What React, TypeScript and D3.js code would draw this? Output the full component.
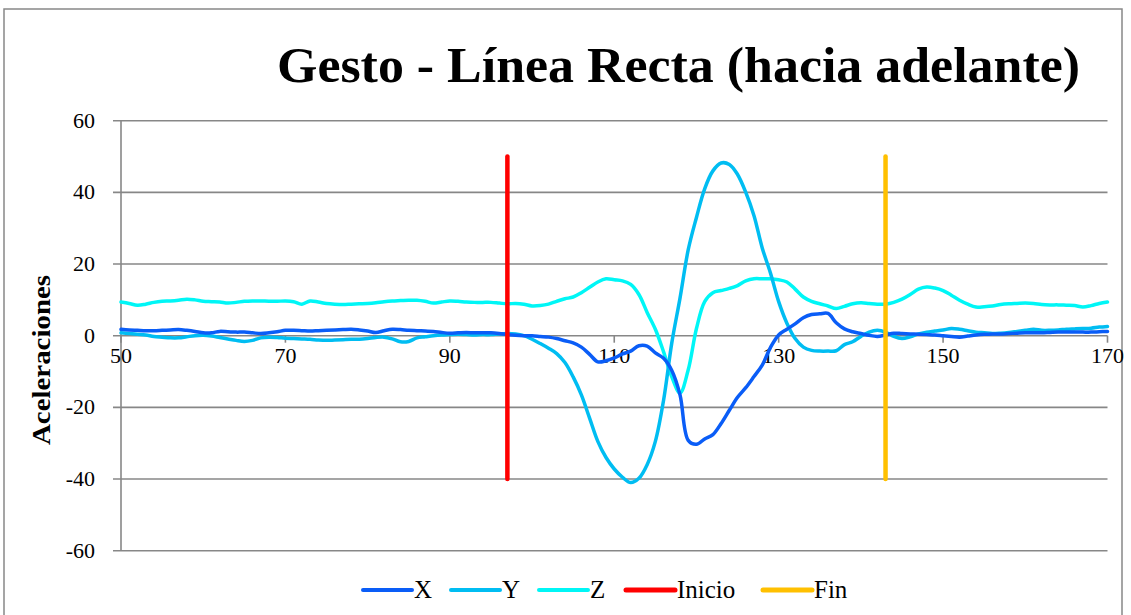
import React from "react";
import * as d3 from "d3";

const W = 1131;
const H = 615;

const title = "Gesto - Línea Recta (hacia adelante)";
const yTitle = "Aceleraciones";
const yTicks = [60, 40, 20, 0, -20, -40, -60];
const xTicks = [50, 70, 90, 110, 130, 150, 170];

const xStart = 50;
const seriesX = [
  1.8, 1.6, 1.5, 1.4, 1.4, 1.5, 1.6, 1.7, 1.5, 1.2, 0.8, 0.8, 1.2, 1.1, 1.0, 1.0, 0.8, 0.6, 0.8, 1.1,
  1.5, 1.5, 1.4, 1.3, 1.4, 1.5, 1.6, 1.7, 1.8, 1.6, 1.3, 0.9, 1.4, 1.8, 1.7, 1.5, 1.4, 1.3, 1.2, 0.9,
  0.7, 0.8, 0.9, 0.8, 0.8, 0.8, 0.6, 0.3, 0.1, 0.0, 0.0, -0.2, -0.4, -0.8, -1.4, -2.0, -3.2, -5.2, -7.3, -7.0,
  -6.2, -5.1, -4.3, -2.8, -2.9, -4.8, -6.3, -9.7, -16.5, -29.2, -30.3, -28.8, -27.6, -24.5, -20.8, -17.2, -14.5, -11.4, -8.2, -3.3,
  0.2, 1.8, 3.3, 5.0, 5.9, 6.1, 6.2, 3.6, 1.9, 1.1, 0.6, 0.1, -0.2, 0.2, 0.7, 0.6, 0.5, 0.4, 0.3, 0.2,
  0.0, -0.2, -0.4, -0.1, 0.2, 0.4, 0.5, 0.5, 0.6, 0.7, 0.8, 0.8, 0.8, 0.9, 1.0, 1.0, 1.0, 1.0, 1.0, 1.1,
  1.2,
];
const seriesY = [
  0.8, 0.6, 0.4, 0.2, -0.2, -0.4, -0.6, -0.6, -0.3, 0.0, 0.1, -0.1, -0.5, -0.9, -1.3, -1.6, -1.3, -0.6, -0.4, -0.5,
  -0.7, -0.8, -0.9, -1.0, -1.2, -1.3, -1.2, -1.1, -1.0, -1.0, -0.8, -0.5, -0.4, -0.9, -1.7, -1.6, -0.6, -0.3, 0.0, 0.2,
  0.3, 0.4, 0.3, 0.2, 0.3, 0.3, 0.5, 0.6, 0.5, 0.0, -1.0, -2.2, -3.5, -5.0, -7.5, -11.5, -16.5, -23.0, -29.5, -34.0,
  -37.2, -39.5, -41.0, -39.8, -36.0, -29.5, -18.0, -2.0, 10.5, 24.0, 33.0, 41.0, 46.0, 48.2, 47.8, 45.0, 40.0, 33.5, 24.5, 17.5,
  9.5, 3.5, -0.8, -3.2, -4.1, -4.3, -4.3, -4.2, -2.5, -1.7, -0.2, 1.0, 1.5, 1.0, -0.2, -0.8, -0.3, 0.5, 1.0, 1.3,
  1.6, 2.0, 1.8, 1.4, 1.0, 0.8, 0.6, 0.7, 0.9, 1.2, 1.5, 1.8, 1.5, 1.5, 1.6, 1.8, 1.9, 2.0, 2.1, 2.4,
  2.6,
];
const seriesZ = [
  9.4, 9.0, 8.5, 8.8, 9.3, 9.6, 9.7, 9.9, 10.2, 10.0, 9.6, 9.5, 9.4, 9.1, 9.3, 9.6, 9.7, 9.7, 9.6, 9.6,
  9.7, 9.5, 8.8, 9.7, 9.4, 9.0, 8.8, 8.7, 8.8, 8.9, 9.0, 9.2, 9.5, 9.7, 9.8, 9.9, 9.9, 9.6, 9.1, 9.4,
  9.7, 9.6, 9.4, 9.3, 9.3, 9.3, 9.1, 8.9, 9.0, 8.8, 8.3, 8.4, 8.8, 9.6, 10.3, 10.8, 12.0, 13.5, 15.0, 15.9,
  15.6, 15.3, 14.3, 11.5, 6.5, 1.8, -4.5, -11.5, -16.0, -9.5, 2.0, 9.5, 12.0, 12.6, 13.2, 14.0, 15.3, 15.9, 15.9, 15.9,
  15.6, 15.0, 13.0, 10.8, 9.6, 8.9, 8.3, 7.6, 8.2, 8.9, 9.2, 9.0, 8.8, 8.8, 9.3, 10.2, 11.5, 13.0, 13.6, 13.3,
  12.6, 11.3, 9.9, 8.8, 8.0, 8.1, 8.3, 8.7, 8.9, 9.0, 9.1, 9.0, 8.7, 8.6, 8.6, 8.5, 8.4, 8.0, 8.4, 9.0,
  9.4,
];
const inicioX = 97;
const finX = 143;
const markerRange = [-40, 50];

const colors = {
  X: "#0a5df7",
  Y: "#00bdf2",
  Z: "#00f6f6",
  Inicio: "#ff0000",
  Fin: "#ffc000",
};

const legendItems = [
  { name: "X", color: colors.X, x1: 363, w: 4 },
  { name: "Y", color: colors.Y, x1: 451, w: 4 },
  { name: "Z", color: colors.Z, x1: 539, w: 4 },
  { name: "Inicio", color: colors.Inicio, x1: 626, w: 5 },
  { name: "Fin", color: colors.Fin, x1: 763, w: 5 },
];

export default function App() {
  const x = d3.scaleLinear().domain([50, 170]).range([121, 1107.5]);
  const y = d3.scaleLinear().domain([-60, 60]).range([550.7, 120.7]);
  const line = d3
    .line<number>()
    .x((_, i) => x(xStart + i))
    .y((d) => y(d))
    .curve(d3.curveCatmullRom.alpha(0.5));

  const font = "'Liberation Serif', 'DejaVu Serif', serif";
  const grid = "#878787";

  return (
    <svg
      width={W}
      height={H}
      style={{ position: "absolute", left: 0, top: 0, background: "#fff" }}
      fontFamily={font}
    >
      <rect x={0} y={0} width={W} height={H} fill="#fff" />
      <path d={`M4,${H} V9 H1122 V${H}`} fill="none" stroke="#888" strokeWidth={1.5} />
      <text
        x={678.5}
        y={82}
        textAnchor="middle"
        fontSize={50}
        fontWeight="bold"
        fill="#000"
        textLength={803}
        lengthAdjust="spacingAndGlyphs"
      >
        {title}
      </text>

      {yTicks.map((t) => (
        <g key={t}>
          <line x1={113} x2={x(170)} y1={y(t)} y2={y(t)} stroke={grid} strokeWidth={1.6} />
          <text x={95} y={y(t) + 7} textAnchor="end" fontSize={22} fill="#000">
            {t}
          </text>
        </g>
      ))}
      <line x1={121} x2={121} y1={y(60)} y2={y(-60)} stroke={grid} strokeWidth={1.6} />
      {xTicks.map((t) => (
        <g key={t}>
          <line x1={x(t)} x2={x(t)} y1={y(0)} y2={y(0) + 7} stroke={grid} strokeWidth={1.6} />
          <text x={x(t)} y={y(0) + 27} textAnchor="middle" fontSize={22} fill="#000">
            {t}
          </text>
        </g>
      ))}
      <text
        transform={`translate(50,${360}) rotate(-90)`}
        textAnchor="middle"
        fontSize={25}
        fontWeight="bold"
        fill="#000"
        textLength={170}
        lengthAdjust="spacingAndGlyphs"
      >
        {yTitle}
      </text>

      <path d={line(seriesZ) || ""} fill="none" stroke={colors.Z} strokeWidth={3.5} strokeLinejoin="round" strokeLinecap="round" />
      <path d={line(seriesY) || ""} fill="none" stroke={colors.Y} strokeWidth={3.5} strokeLinejoin="round" strokeLinecap="round" />
      <path d={line(seriesX) || ""} fill="none" stroke={colors.X} strokeWidth={3.5} strokeLinejoin="round" strokeLinecap="round" />

      <line x1={x(inicioX)} x2={x(inicioX)} y1={y(markerRange[0])} y2={y(markerRange[1])} stroke={colors.Inicio} strokeWidth={4.5} strokeLinecap="round" />
      <line x1={x(finX)} x2={x(finX)} y1={y(markerRange[0])} y2={y(markerRange[1])} stroke={colors.Fin} strokeWidth={4.5} strokeLinecap="round" />

      {legendItems.map((it) => (
        <g key={it.name}>
          <line x1={it.x1} x2={it.x1 + 49} y1={590} y2={590} stroke={it.color} strokeWidth={it.w} strokeLinecap="round" />
          <text x={it.x1 + 51} y={598} fontSize={25} fill="#000">
            {it.name}
          </text>
        </g>
      ))}
    </svg>
  );
}
